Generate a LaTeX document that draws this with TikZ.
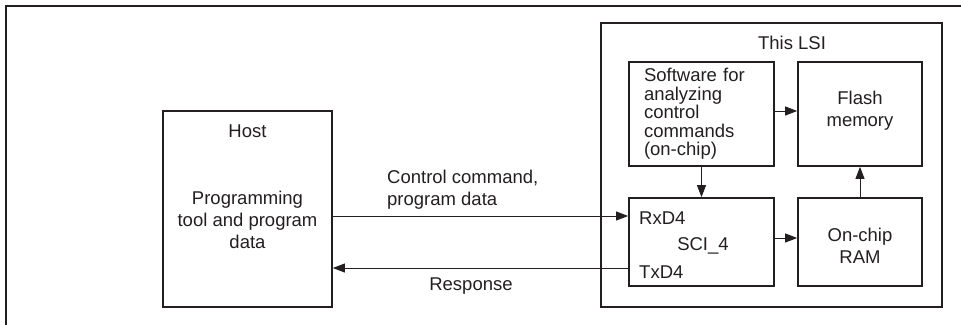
\documentclass[tikz,border=0pt]{standalone}
\usepackage{fontspec}
\setmainfont{Liberation Sans}
\usetikzlibrary{arrows.meta,positioning,calc}
\definecolor{ink}{RGB}{35,31,32}
\tikzset{
  >={Triangle[length=12pt,width=9pt]},
  blk/.style={draw=ink,line width=1.7pt,inner sep=0pt,align=center,text=ink},
  tag/.style={inner sep=0pt,align=center,text=ink},
  flow/.style={->,line width=0.9pt,draw=ink,fill=ink},
}

\begin{document}
\begin{tikzpicture}[x=1pt,y=-1pt,font=\fontsize{18.5}{22.3}\selectfont]
  \useasboundingbox (0,0) rectangle (961,324);
  % outer frame, cut at the right and bottom
  \draw[line width=1.7pt,draw=ink] (6,6) rectangle (972,336);
  % host side
  \node[blk,minimum width=169pt,minimum height=196pt] (host) at (247.5,209) {};
  \node[tag] (hostname) at (247.5,131) {Host};
  \node[tag] (hosttool) at (247.5,220) {Programming\\tool and program\\data};
  % the LSI
  \node[blk,minimum width=341pt,minimum height=284pt] (lsi) at (771.5,165) {};
  \node[tag] (lsiname) at (792,43) {This LSI};
  \node[blk,minimum width=145pt,minimum height=104pt,text width=115pt,align=left,
    font=\fontsize{18.5}{18.6}\selectfont] (soft) at (701.5,114)
    {Software for\\analyzing\\control\\commands\\(on-chip)};
  \node[blk,minimum width=124pt,minimum height=104pt] (flash) at (860,114) {};
  \node[tag] (flashname) at (860,111) {Flash\\memory};
  \node[blk,minimum width=145pt,minimum height=88pt] (sci) at (701.5,242) {};
  \node[tag,anchor=west] (rxd) at (639,218) {RxD4};
  \node[tag] (sciname) at (703,246) {SCI\_4};
  \node[tag,anchor=west] (txd) at (639,272) {TxD4};
  \node[blk,minimum width=124pt,minimum height=88pt] (ram) at (860,242) {};
  \node[tag] (ramname) at (860,246) {On-chip\\RAM};
  % inner flows
  \draw[flow] (soft.east |- 0,111) -- (flash.west |- 0,111);
  \draw[flow] (sci.east |- 0,238) -- (ram.west |- 0,238);
  \draw[flow] (soft) -- (sci);
  \draw[flow] (ram) -- (flash);
  % host <-> SCI
  \coordinate (rxin) at ([yshift=26pt]sci.west);
  \coordinate (txout) at ([yshift=-26pt]sci.west);
  \draw[flow] (host.east |- rxin) -- (rxin);
  \draw[flow] (txout) -- (host.east |- txout);
  \node[tag,anchor=west,align=left] (cmd) at (387,190) {Control command,\\program data};
  \node[tag] (resp) at (471,286) {Response};
\end{tikzpicture}
\end{document}
